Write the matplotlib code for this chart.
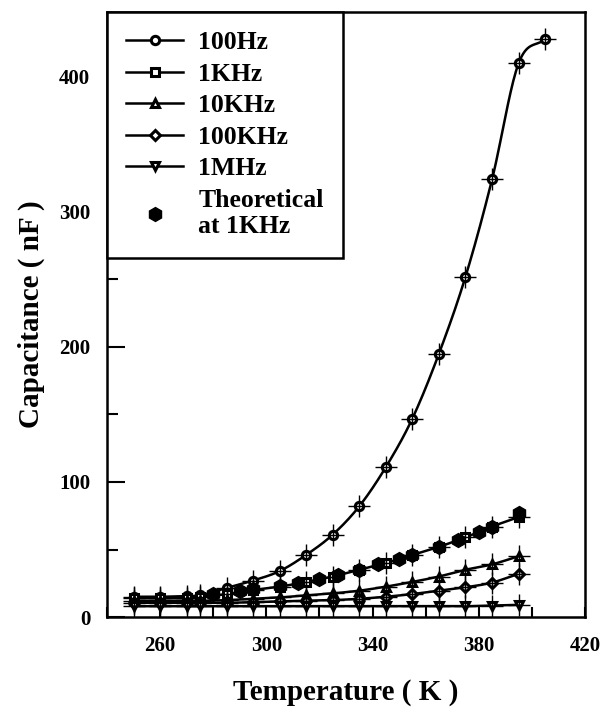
import numpy as np
import matplotlib.pyplot as plt
from matplotlib.ticker import MultipleLocator

plt.rcParams['font.family'] = 'Liberation Serif'
plt.rcParams['font.weight'] = 'bold'

# temperatures (K)
temp = [250, 260, 270, 275, 285, 295, 305, 315, 325, 335, 345, 355, 365, 375, 385, 395]
temp_100hz = temp + [405]

# capacitance (nF)
c_100hz = [15, 15, 15.5, 16, 21.5, 27, 34, 46, 61, 82, 111, 147, 195, 252, 324, 410, 428]
c_1khz = [14, 14, 14, 14.5, 17, 20, 22.5, 26, 30, 35, 40, 46, 52, 59, 67, 74]
c_10khz = [12, 12, 12, 12, 12.5, 13.5, 14.5, 16, 17.5, 19.5, 22.5, 26, 30, 35, 39, 45]
c_100khz = [10.5, 10.5, 10.5, 10.5, 10.5, 11, 11.5, 12, 12.5, 13.5, 15, 17, 19.5, 22, 25.5, 32]
c_1mhz = [8, 8, 8, 8, 8, 8, 8, 8, 8, 8, 8, 8, 8, 8, 8.5, 9]

# theoretical values at 1KHz
temp_theo = [280, 290, 295, 305, 312, 320, 327, 335, 342, 350, 355, 365, 372, 380, 385, 395]
c_theo = [17, 19, 21, 23, 25.5, 28, 31, 35, 39, 43, 46, 52, 57, 63, 67, 77]


def smooth(x, y, n=20):
    # Catmull-Rom curve through the points, only for drawing the line
    p = np.column_stack([x, y]).astype(float)
    p = np.vstack([2 * p[0] - p[1], p, 2 * p[-1] - p[-2]])
    t = np.linspace(0, 1, n, endpoint=False)[:, None]
    out = []
    for i in range(1, len(p) - 2):
        p0, p1, p2, p3 = p[i - 1], p[i], p[i + 1], p[i + 2]
        seg = 0.5 * ((2 * p1) + (-p0 + p2) * t + (2 * p0 - 5 * p1 + 4 * p2 - p3) * t**2
                     + (-p0 + 3 * p1 - 3 * p2 + p3) * t**3)
        out.append(seg)
    out.append(p[-2][None, :])
    out = np.vstack(out)
    return out[:, 0], out[:, 1]


fig = plt.figure(figsize=(6.06, 7.08), dpi=100)
ax = fig.add_axes([0.1766, 0.1285, 0.7887, 0.8545])

series = [
    (temp_100hz, c_100hz, 'o', '100Hz'),
    (temp, c_1khz, 's', '1KHz'),
    (temp, c_10khz, '^', '10KHz'),
    (temp, c_100khz, 'D', '100KHz'),
    (temp, c_1mhz, 'v', '1MHz'),
]

for x, y, m, lab in series:
    ms = 5 if m == 'D' else 6
    sx, sy = smooth(x, y)
    ax.plot(sx, sy, color='black', lw=1.8)
    ax.plot(x, y, color='black', lw=1.8, marker=m, ms=ms, mfc='white',
            mec='black', mew=2.2, ls='none')
    # crosshairs on every point
    ax.plot(x, y, ls='none', marker='+', ms=16, mew=1.0, color='black')
    # legend handle
    ax.plot([], [], color='black', lw=1.8, marker=m, ms=ms, mfc='white',
            mec='black', mew=2.2, label=lab)

ax.plot(temp_theo, c_theo, ls='none', marker='h', ms=10, color='black',
        label='Theoretical\nat 1KHz')

ax.set_xlim(240, 420)
ax.set_ylim(0, 448)
ax.set_xticks([260, 300, 340, 380, 420])
ax.xaxis.set_minor_locator(MultipleLocator(20))
ax.yaxis.set_major_locator(MultipleLocator(100))
ax.yaxis.set_minor_locator(MultipleLocator(50))

ax.tick_params(axis='both', which='both', direction='in', top=False, right=False,
               width=1.5, labelsize=15)
ax.tick_params(axis='x', which='both', length=7, pad=14)
ax.tick_params(axis='y', which='major', length=13, pad=12)
ax.tick_params(axis='y', which='minor', length=8)
for s in ax.spines.values():
    s.set_linewidth(1.8)

ax.set_xlabel('Temperature ( K )', fontsize=21, fontweight='bold', labelpad=16)
ax.set_ylabel('Capacitance ( nF )', fontsize=21, fontweight='bold', labelpad=10)

leg = ax.legend(loc='upper left', borderaxespad=0, fancybox=False, framealpha=1,
                edgecolor='black', fontsize=18.5, handlelength=2.2, handletextpad=0.6,
                labelspacing=0.33, borderpad=0.75)
leg.get_frame().set_linewidth(1.8)

fig.savefig('out.png', dpi=100)
